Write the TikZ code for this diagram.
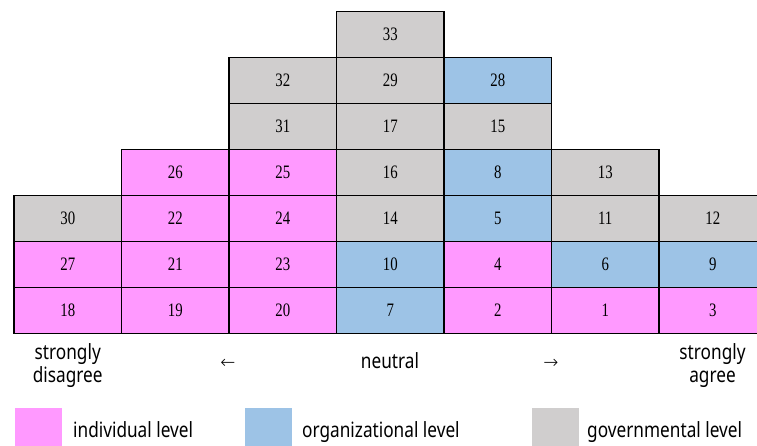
\documentclass[tikz,border=0pt]{standalone}
\usepackage{fontspec}
\usepackage{graphicx}
\setmainfont{Liberation Serif}
\newfontfamily\labelfont{Noto Sans}
\newfontfamily\arrowfont{DejaVu Sans ExtraLight}
\definecolor{indiv}{HTML}{FF99FF}
\definecolor{orga}{HTML}{9DC3E6}
\definecolor{gov}{HTML}{D0CECE}
\begin{document}
\begin{tikzpicture}[x=1pt,y=-1pt,
  cell/.style={draw=black, line width=1.4pt, minimum width=107.5pt, minimum height=46pt, inner sep=0pt, font=\fontsize{19}{19}\selectfont},
  lbl/.style={inner sep=0pt, font=\labelfont\fontsize{21}{23}\selectfont},
  arr/.style={inner sep=0pt, font=\arrowfont\fontsize{18}{18}\selectfont, anchor=base},
  key/.style={inner sep=0pt, minimum width=47pt, minimum height=47pt, anchor=north west}]
\useasboundingbox (0,0) rectangle (757,446);
\clip (0,0) rectangle (757,446);
\foreach \c/\r/\n/\col in {
  0/0/18/indiv, 0/1/27/indiv, 0/2/30/gov,
  1/0/19/indiv, 1/1/21/indiv, 1/2/22/indiv, 1/3/26/indiv,
  2/0/20/indiv, 2/1/23/indiv, 2/2/24/indiv, 2/3/25/indiv, 2/4/31/gov, 2/5/32/gov,
  3/0/7/orga, 3/1/10/orga, 3/2/14/gov, 3/3/16/gov, 3/4/17/gov, 3/5/29/gov, 3/6/33/gov,
  4/0/2/indiv, 4/1/4/indiv, 4/2/5/orga, 4/3/8/orga, 4/4/15/gov, 4/5/28/orga,
  5/0/1/indiv, 5/1/6/orga, 5/2/11/gov, 5/3/13/gov,
  6/0/3/indiv, 6/1/9/orga, 6/2/12/gov} {
  \node[cell, fill=\col] (c\n) at ({67.75+107.5*\c},{310.5-46*\r}) {\scalebox{0.78}[1]{\n}};
}
\node[lbl] (sd) at (67.75,366) {\scalebox{0.82}[1]{\begin{tabular}{@{}c@{}}strongly\\disagree\end{tabular}}};
\node[lbl] (sa) at (712.5,366) {\scalebox{0.82}[1]{\begin{tabular}{@{}c@{}}strongly\\agree\end{tabular}}};
\node[lbl, anchor=base] (neu) at (390,368) {\scalebox{0.82}[1]{neutral}};
\node[arr] (la) at (228,368) {←};
\node[arr] (ra) at (551,368) {→};
\node[key, fill=indiv] (k1) at (15,408) {};
\node[key, fill=orga] (k2) at (245,408) {};
\node[key, fill=gov] (k3) at (532,408) {};
\node[lbl, anchor=base west] (t1) at (73,437) {\scalebox{0.82}[1]{individual level}};
\node[lbl, anchor=base west] (t2) at (302,437) {\scalebox{0.82}[1]{organizational level}};
\node[lbl, anchor=base west] (t3) at (587,437) {\scalebox{0.82}[1]{governmental level}};
\end{tikzpicture}
\end{document}
